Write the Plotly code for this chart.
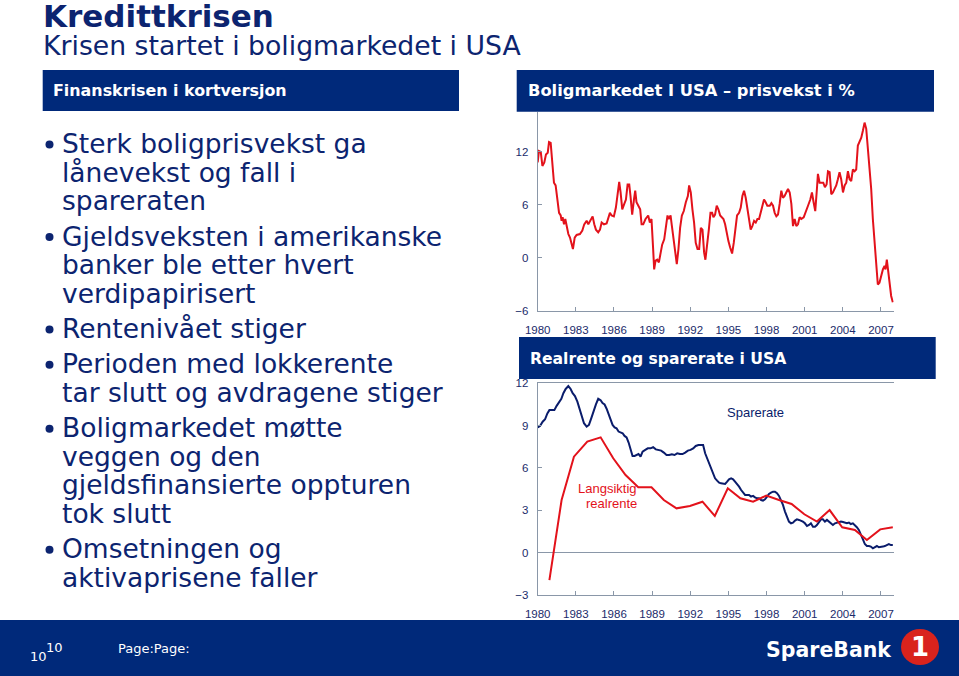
import plotly.graph_objects as go

# ---------------- data ----------------
year_ticks = [1980, 1983, 1986, 1989, 1992, 1995, 1998, 2001, 2004, 2007]
year_labels = [str(y) for y in year_ticks]
top_y_ticks = [-6, 0, 6, 12]
bottom_y_ticks = [-3, 0, 3, 6, 9, 12]

house_years = [1980.00,1980.10,1980.24,1980.37,1980.52,1980.65,1980.79,1980.89,1981.02,1981.13,1981.28,1981.41,1981.54,1981.68,1981.81,1981.88,1981.96,1982.07,1982.17,1982.28,1982.41,1982.54,1982.64,1982.77,1982.91,1983.06,1983.32,1983.51,1983.66,1983.85,1983.98,1984.16,1984.32,1984.45,1984.58,1984.76,1984.90,1985.03,1985.21,1985.42,1985.68,1985.81,1985.99,1986.15,1986.28,1986.41,1986.52,1986.65,1986.81,1986.94,1987.07,1987.20,1987.30,1987.43,1987.57,1987.67,1987.77,1987.93,1988.06,1988.17,1988.30,1988.48,1988.69,1988.82,1988.95,1989.08,1989.16,1989.27,1989.40,1989.53,1989.66,1989.79,1989.95,1990.08,1990.21,1990.31,1990.45,1990.52,1990.65,1990.81,1990.94,1991.07,1991.20,1991.34,1991.49,1991.65,1991.81,1991.91,1992.04,1992.17,1992.30,1992.43,1992.57,1992.70,1992.83,1992.96,1993.09,1993.19,1993.30,1993.46,1993.59,1993.72,1993.82,1993.95,1994.08,1994.21,1994.35,1994.48,1994.61,1994.74,1994.87,1995.00,1995.13,1995.29,1995.42,1995.55,1995.68,1995.84,1995.97,1996.10,1996.23,1996.36,1996.49,1996.62,1996.75,1996.88,1997.02,1997.15,1997.28,1997.41,1997.54,1997.67,1997.80,1997.93,1998.06,1998.25,1998.38,1998.51,1998.64,1998.77,1998.90,1999.03,1999.16,1999.29,1999.42,1999.55,1999.69,1999.82,1999.95,2000.08,2000.21,2000.34,2000.47,2000.60,2000.73,2000.92,2001.07,2001.26,2001.44,2001.57,2001.70,2001.83,2001.96,2002.04,2002.17,2002.33,2002.46,2002.59,2002.72,2002.83,2002.96,2003.09,2003.22,2003.35,2003.48,2003.61,2003.74,2003.87,2004.01,2004.14,2004.27,2004.40,2004.53,2004.66,2004.79,2004.92,2005.05,2005.18,2005.31,2005.45,2005.58,2005.71,2005.84,2005.97,2006.10,2006.23,2006.36,2006.49,2006.62,2006.75,2006.88,2007.02,2007.15,2007.28,2007.36,2007.46,2007.54,2007.67,2007.80,2007.93]
house_growth = [10.8,12.1,12.0,10.4,10.8,11.7,11.9,13.1,13.0,11.2,8.5,8.2,6.6,5.1,4.8,4.2,4.6,3.8,4.4,3.6,2.7,2.3,1.7,1.0,2.3,2.6,2.7,3.1,3.8,4.2,3.8,4.2,4.7,3.8,3.2,2.9,3.2,4.0,3.8,3.9,5.1,4.8,4.7,5.7,7.0,8.6,7.4,5.5,6.1,6.6,8.3,8.3,7.0,4.9,6.6,7.6,6.3,5.9,5.5,3.8,3.8,4.4,4.8,4.0,4.4,1.0,-1.3,-0.3,-0.2,-0.5,0.4,1.5,2.1,3.4,4.8,4.4,4.8,4.0,2.5,0.6,-0.7,1.0,3.4,4.8,5.3,6.3,7.0,8.2,7.4,5.5,4.0,1.7,1.0,1.0,3.4,3.2,0.6,-0.2,1.0,3.2,5.1,5.1,4.6,4.9,5.9,5.5,4.8,4.6,4.4,3.8,2.7,1.9,1.2,0.5,1.7,3.6,4.8,5.1,5.7,7.0,7.6,6.8,5.5,4.0,3.2,3.6,4.2,4.0,4.4,4.4,5.1,5.9,6.6,6.3,5.9,5.9,6.2,5.9,5.1,4.7,4.9,6.1,7.6,6.8,7.0,7.4,7.8,7.4,6.1,3.6,4.4,3.6,3.8,4.6,4.4,4.6,5.1,5.9,6.6,7.4,6.3,5.3,7.8,9.5,8.5,8.5,8.5,8.0,8.3,9.8,9.7,7.2,7.4,7.8,8.2,8.9,9.7,8.9,7.4,8.2,8.5,9.8,8.9,8.7,10.0,9.8,10.0,12.7,13.2,13.6,14.4,15.3,14.6,12.3,9.7,7.8,4.4,1.7,-0.3,-3.0,-2.8,-2.0,-1.3,-0.9,-1.3,-0.2,-1.3,-3.2,-4.3,-5.0]

saving_years = [1980.00,1980.18,1980.39,1980.58,1980.76,1980.92,1981.10,1981.31,1981.49,1981.68,1981.86,1982.02,1982.20,1982.41,1982.59,1982.75,1982.93,1983.12,1983.27,1983.46,1983.64,1983.85,1984.03,1984.21,1984.40,1984.58,1984.76,1984.95,1985.10,1985.26,1985.42,1985.58,1985.73,1985.89,1986.05,1986.20,1986.36,1986.52,1986.68,1986.83,1986.99,1987.15,1987.30,1987.46,1987.62,1987.77,1987.93,1988.09,1988.25,1988.46,1988.66,1988.87,1989.08,1989.29,1989.50,1989.71,1989.92,1990.13,1990.34,1990.55,1990.76,1990.97,1991.18,1991.39,1991.60,1991.81,1992.02,1992.23,1992.43,1992.64,1992.85,1993.01,1993.17,1993.32,1993.48,1993.64,1993.80,1993.95,1994.11,1994.27,1994.42,1994.58,1994.74,1994.90,1995.05,1995.21,1995.37,1995.52,1995.68,1995.84,1996.00,1996.15,1996.31,1996.47,1996.62,1996.78,1996.94,1997.09,1997.25,1997.41,1997.57,1997.72,1997.88,1998.04,1998.19,1998.35,1998.51,1998.66,1998.82,1998.98,1999.14,1999.29,1999.45,1999.61,1999.76,1999.92,2000.08,2000.24,2000.39,2000.55,2000.71,2000.86,2001.02,2001.18,2001.34,2001.49,2001.65,2001.81,2001.96,2002.12,2002.28,2002.43,2002.59,2002.75,2002.91,2003.06,2003.22,2003.38,2003.53,2003.69,2003.85,2004.01,2004.16,2004.32,2004.48,2004.63,2004.79,2004.95,2005.10,2005.26,2005.42,2005.58,2005.73,2005.89,2006.05,2006.20,2006.36,2006.52,2006.68,2006.83,2006.99,2007.15,2007.30,2007.46,2007.62,2007.78,2007.93]
saving_rate = [8.88,8.98,9.28,9.45,9.87,10.1,10.1,10.1,10.4,10.7,10.9,11.3,11.6,11.8,11.6,11.3,11.1,10.7,10.2,9.69,9.17,8.93,9.05,9.52,10.1,10.5,10.9,10.8,10.6,10.5,10.2,9.76,9.40,9.05,8.88,8.81,8.58,8.50,8.46,8.27,8.17,7.80,7.28,6.85,6.85,6.90,6.99,6.80,7.16,7.28,7.39,7.39,7.47,7.32,7.28,7.23,7.09,6.92,6.92,6.97,6.92,7.04,6.99,6.99,7.09,7.23,7.28,7.39,7.56,7.63,7.63,7.63,7.04,6.69,6.33,5.98,5.62,5.27,5.10,4.96,4.91,4.91,4.87,5.03,5.20,5.27,5.20,5.03,4.87,4.68,4.44,4.25,4.09,4.09,4.09,3.97,4.02,3.92,3.85,3.85,3.73,3.69,3.78,3.97,4.16,4.25,4.32,4.32,4.21,4.02,3.73,3.38,2.91,2.50,2.20,2.08,2.13,2.27,2.36,2.32,2.27,2.20,2.08,1.89,1.96,2.08,1.84,1.84,1.96,2.13,2.36,2.36,2.20,2.32,2.20,2.03,1.96,2.08,2.13,2.17,2.20,2.17,2.13,2.08,2.13,2.03,2.08,1.96,1.80,1.61,1.32,0.94,0.61,0.47,0.47,0.43,0.31,0.38,0.47,0.38,0.43,0.43,0.47,0.54,0.61,0.54,0.54]

real_years = [1980.92,1981.88,1982.85,1983.90,1984.95,1985.94,1986.91,1987.91,1988.95,1989.92,1990.92,1991.97,1992.96,1993.93,1994.95,1995.94,1996.94,1997.98,1998.98,1999.97,2000.97,2001.96,2002.96,2003.95,2004.95,2005.89,2006.94,2007.93]
real_rate = [-1.94,3.73,6.80,7.87,8.17,6.69,5.50,4.63,4.63,3.73,3.14,3.31,3.61,2.60,4.56,3.85,3.61,4.04,3.73,3.45,2.72,2.20,3.02,1.80,1.61,0.90,1.65,1.80]

assert len(house_years) == len(house_growth), (len(house_years), len(house_growth))
assert len(saving_years) == len(saving_rate), (len(saving_years), len(saving_rate))
assert len(real_years) == len(real_rate)

title_text = "Kredittkrisen"
subtitle_text = "Krisen startet i boligmarkedet i USA"
left_header = "Finanskrisen i kortversjon"
top_header = "Boligmarkedet I USA – prisvekst i %"
bottom_header = "Realrente og sparerate i USA"
bullets = [
    ["Sterk boligprisvekst ga", "lånevekst og fall i", "spareraten"],
    ["Gjeldsveksten i amerikanske", "banker ble etter hvert", "verdipapirisert"],
    ["Rentenivået stiger"],
    ["Perioden med lokkerente", "tar slutt og avdragene stiger"],
    ["Boligmarkedet møtte", "veggen og den", "gjeldsfinansierte oppturen", "tok slutt"],
    ["Omsetningen og", "aktivaprisene faller"],
]

# ---------------- styling / layout helpers ----------------
W, H = 959, 676
NAVY_BOX = "#00297a"
NAVY_TXT = "#0c2470"
TICK_TXT = "#1b2b6b"
AXIS = "#8a97a8"
RED = "#e3121b"
LINE_NAVY = "#0a1c6b"

def X(px):
    return px / W

def Y(py):
    return 1 - py / H

PLOT_L, PLOT_R = 537.7, 893.7
TOP_T, TOP_B = 112, 311
BOT_T, BOT_B = 383.3, 595

fig = go.Figure()
fig.add_trace(go.Scatter(x=house_years, y=house_growth, mode="lines",
                         line=dict(color=RED, width=2), xaxis="x", yaxis="y"))
fig.add_trace(go.Scatter(x=saving_years, y=saving_rate, mode="lines",
                         line=dict(color=LINE_NAVY, width=2), xaxis="x2", yaxis="y2"))
fig.add_trace(go.Scatter(x=real_years, y=real_rate, mode="lines",
                         line=dict(color=RED, width=2), xaxis="x2", yaxis="y2"))

tickfont = dict(family="Arial, Liberation Sans", size=11.5, color=TICK_TXT)
common_x = dict(range=[1980, 2008], tickvals=year_ticks, ticktext=year_labels,
                showline=True, linecolor=AXIS, linewidth=1.2, ticks="inside",
                ticklen=4, tickcolor=AXIS, showgrid=False, zeroline=False,
                tickfont=tickfont, ticklabelstandoff=8, domain=[X(PLOT_L), X(PLOT_R)])
common_y = dict(showline=True, linecolor=AXIS, linewidth=1.2, ticks="inside",
                ticklen=4, tickcolor=AXIS, showgrid=False, tickfont=tickfont,
                ticklabelstandoff=6)

fig.update_layout(
    width=W, height=H, autosize=False,
    margin=dict(l=0, r=0, t=0, b=0),
    paper_bgcolor="white", plot_bgcolor="white",
    showlegend=False, hovermode=False, template="none",
    xaxis=dict(**common_x, anchor="y"),
    yaxis=dict(**common_y, range=[-6, 16.5], tickvals=top_y_ticks, zeroline=False,
               domain=[Y(TOP_B), Y(TOP_T)], anchor="x"),
    yaxis3=dict(**common_y, range=[-6, 16.5], tickvals=top_y_ticks, zeroline=False,
                overlaying="y", side="right", anchor="x"),
    xaxis2=dict(**common_x, anchor="y2", mirror=True),
    yaxis2=dict(**common_y, range=[-3, 12], tickvals=bottom_y_ticks, zeroline=True,
                zerolinecolor=AXIS, zerolinewidth=1.2,
                domain=[Y(BOT_B), Y(BOT_T)], anchor="x2"),
    yaxis4=dict(**common_y, range=[-3, 12], tickvals=bottom_y_ticks, zeroline=False,
                overlaying="y2", side="right", anchor="x2"),
)

shapes = []
def rect(x0, y0, x1, y1, color):
    shapes.append(dict(type="rect", xref="paper", yref="paper", x0=X(x0), x1=X(x1),
                       y0=Y(y1), y1=Y(y0), fillcolor=color, line=dict(width=0), layer="above"))

rect(42.7, 70, 459, 111, NAVY_BOX)
rect(516.7, 70, 934, 111.7, NAVY_BOX)
rect(519, 337, 935.7, 379, NAVY_BOX)
rect(0, 620, 959, 676, NAVY_BOX)
# logo circle
shapes.append(dict(type="circle", xref="paper", yref="paper", x0=X(901), x1=X(939),
                   y0=Y(665), y1=Y(629), fillcolor="#d9231d", line=dict(width=0)))

annotations = []
def text(s, px, py, size, color, bold=False, family="DejaVu Sans", xanchor="left"):
    annotations.append(dict(text=("<b>%s</b>" % s) if bold else s, x=X(px), y=Y(py),
                            xref="paper", yref="paper", xanchor=xanchor, yanchor="middle",
                            showarrow=False, font=dict(family=family, size=size, color=color)))

text(title_text, 41, 16, 31, NAVY_TXT, bold=True)
text(subtitle_text, 41, 45.5, 26.7, NAVY_TXT)
text(left_header, 51, 91, 15.9, "white", bold=True)
text(top_header, 526, 91, 16.3, "white", bold=True)
text(bottom_header, 528, 358.5, 15.6, "white", bold=True)

# bullets
baseline = 153
for bi, lines in enumerate(bullets):
    if bi > 0:
        baseline += 35.3
    shapes.append(dict(type="circle", xref="paper", yref="paper",
                       x0=X(45.5), x1=X(53.5), y0=Y(baseline - 4.5), y1=Y(baseline - 12.5),
                       fillcolor=NAVY_TXT, line=dict(width=0)))
    for li, line in enumerate(lines):
        if li > 0:
            baseline += 28.6
        text(line, 59.5, baseline - 9.5, 26.5, NAVY_TXT)

# chart labels
text("Sparerate", 755, 413, 13, LINE_NAVY, family="Arial, Liberation Sans", xanchor="center")
text("Langsiktig", 607, 488.5, 13, RED, family="Arial, Liberation Sans", xanchor="center")
text("realrente", 611.5, 503.5, 13, RED, family="Arial, Liberation Sans", xanchor="center")

# footer
text("10", 28, 656, 13, "white")
text("10", 44, 647, 13, "white")
text("Page:Page:", 116, 648, 13, "white")
text("SpareBank", 764, 650, 20.5, "white", bold=True)
text("1", 920, 647, 26, "white", bold=True, xanchor="center")

fig.update_layout(shapes=shapes, annotations=annotations)
fig.write_html("out.html", config={"displayModeBar": False},
               post_script="document.body.style.margin='0';")
